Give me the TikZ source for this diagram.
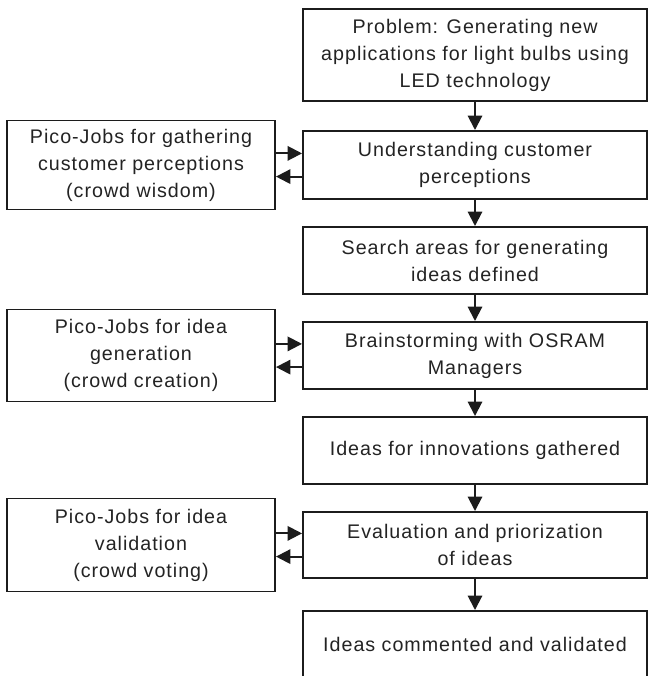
\documentclass[tikz,border=0pt]{standalone}
\usepackage{fontspec}
\setmainfont[LetterSpace=5]{Liberation Sans}
\usetikzlibrary{arrows.meta,positioning}
\definecolor{ink}{RGB}{28,28,28}
\definecolor{txt}{RGB}{35,35,35}

\begin{document}
\begin{tikzpicture}[>={Triangle[length=3.6mm,width=3.6mm]}, line width=1.4pt, draw=ink,
  stepbox/.style={draw=ink, minimum width=8.6cm, align=center, inner sep=0pt, text=txt,
    font=\fontsize{14}{19.2}\selectfont},
  picobox/.style={stepbox, minimum width=6.7cm}]
  \useasboundingbox (0,0) rectangle (16.25,16.9);
  % process column (right), crowd column (left)
  \def\xL{3.525}
  \def\xR{11.875}
  % process steps
  \node[stepbox, minimum height=2.3cm] (prob) at (\xR,15.525)
    {Problem: Generating new\\applications for light bulbs using\\LED technology};
  \node[stepbox, minimum height=1.7cm] (under) at (\xR,12.775)
    {Understanding customer\\perceptions};
  \node[stepbox, minimum height=1.675cm] (search) at (\xR,10.3875)
    {Search areas for generating\\ideas defined};
  \node[stepbox, minimum height=1.675cm] (brain) at (\xR,8.0125)
    {Brainstorming with OSRAM\\Managers};
  \node[stepbox, minimum height=1.675cm] (ideas) at (\xR,5.6375)
    {Ideas for innovations gathered};
  \node[stepbox, minimum height=1.65cm] (eval) at (\xR,3.275)
    {Evaluation and priorization\\of ideas};
  \node[stepbox, minimum height=1.675cm] (valid) at (\xR,0.7875)
    {Ideas commented and validated};
  % pico-jobs
  \node[picobox, minimum height=2.225cm] (picoA) at (\xL,12.775)
    {Pico-Jobs for gathering\\customer perceptions\\(crowd wisdom)};
  \node[picobox, minimum height=2.3cm] (picoB) at (\xL,8.0125)
    {Pico-Jobs for idea\\generation\\(crowd creation)};
  \node[picobox, minimum height=2.325cm] (picoC) at (\xL,3.275)
    {Pico-Jobs for idea\\validation\\(crowd voting)};
  % main flow
  \draw[->] (prob) -- (under);
  \draw[->] (under) -- (search);
  \draw[->] (search) -- (brain);
  \draw[->] (brain) -- (ideas);
  \draw[->] (ideas) -- (eval);
  \draw[->] (eval) -- (valid);
  % exchange with the crowd
  \draw[->] ([yshift=2.9mm]picoA.east) -- ([yshift=2.9mm]under.west);
  \draw[->] ([yshift=-2.9mm]under.west) -- ([yshift=-2.9mm]picoA.east);
  \draw[->] ([yshift=2.9mm]picoB.east) -- ([yshift=2.9mm]brain.west);
  \draw[->] ([yshift=-2.9mm]brain.west) -- ([yshift=-2.9mm]picoB.east);
  \draw[->] ([yshift=2.9mm]picoC.east) -- ([yshift=2.9mm]eval.west);
  \draw[->] ([yshift=-2.9mm]eval.west) -- ([yshift=-2.9mm]picoC.east);
\end{tikzpicture}
\end{document}
